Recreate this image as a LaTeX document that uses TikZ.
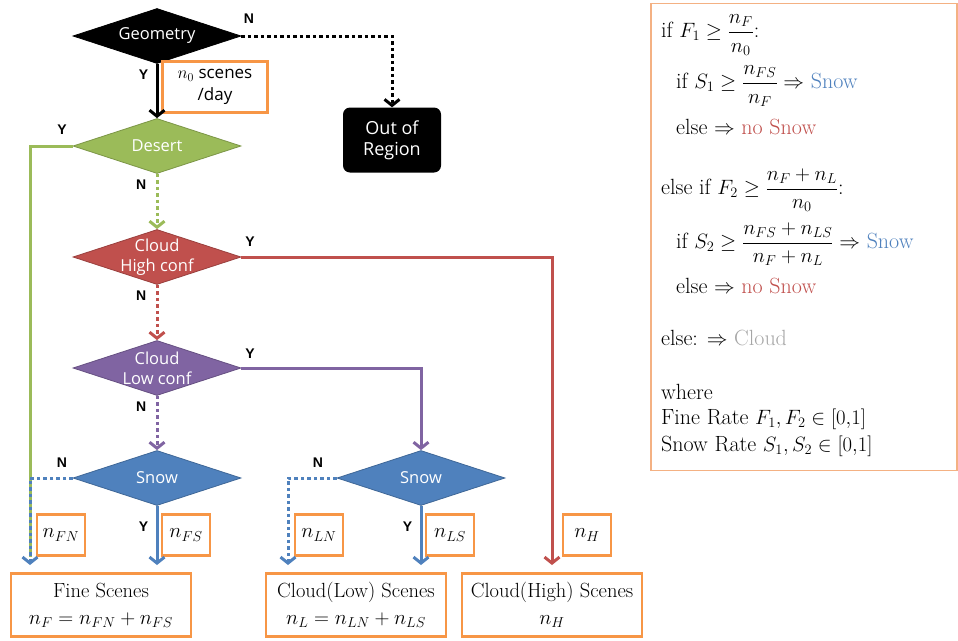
\documentclass[tikz,border=0pt]{standalone}
\usepackage{amsmath}
\usepackage{fontspec}
\setsansfont{Open Sans}
\newfontfamily\ynfont{Liberation Sans}
\usetikzlibrary{shapes.geometric,arrows.meta,positioning}
\definecolor{desertgreen}{RGB}{155,187,89}
\definecolor{highred}{RGB}{192,80,77}
\definecolor{lowpurple}{RGB}{128,100,162}
\definecolor{snowblue}{RGB}{79,129,189}
\definecolor{boxorange}{RGB}{247,150,70}
\definecolor{noteorange}{RGB}{244,177,131}
\definecolor{cloudgray}{RGB}{166,166,166}
\tikzset
{
    decision/.style = {diamond, aspect=3, minimum width=168pt, minimum height=55pt, inner xsep=0pt, inner ysep=-9pt, align=center, text=white, draw=#1!80!black, fill=#1, line width=0.8pt, font=\sffamily\fontsize{16.5}{20}\selectfont},
    terminal/.style = {rectangle, rounded corners=7pt, fill=black, text=white, minimum width=98pt, minimum height=65pt, align=center, font=\sffamily\fontsize{18}{21}\selectfont},
    yesline/.style  = {line width=3pt, draw=#1, -{Straight Barb[length=6pt,width=15pt]}},
    noline/.style   = {yesline=#1, dash pattern=on 3.5pt off 3pt},
    yn/.style       = {font=\ynfont\bfseries\fontsize{14}{15}\selectfont},
    count/.style    = {rectangle, draw=boxorange, line width=2.3pt, minimum width=48pt, minimum height=41pt, inner sep=0pt, font=\fontsize{21}{22}\selectfont},
    scenes/.style   = {rectangle, draw=boxorange, line width=2.3pt, minimum width=180pt, minimum height=63pt, align=center, font=\fontsize{20.5}{27}\selectfont},
    notebox/.style  = {rectangle, draw=noteorange, line width=1.4pt, minimum width=306pt, minimum height=467pt},
    note/.style     = {anchor=west, inner sep=0pt, font=\fontsize{22}{24}\selectfont}
}
\begin{document}
\begin{tikzpicture}[x=1pt,y=-1pt]
	\useasboundingbox (0,0) rectangle (958,640);
	% decisions
	\node (geo)    [decision=black] at (157,36) {Geometry};
	\node (desert) [decision=desertgreen] at (157,146) {Desert};
	\node (high)   [decision=highred] at (157,257) {Cloud\\High conf};
	\node (low)    [decision=lowpurple] at (157,368) {Cloud\\Low conf};
	\node (snowL)  [decision=snowblue] at (157,478) {Snow};
	\node (snowR)  [decision=snowblue] at (421,478) {Snow};
	\node (oor)    [terminal] at (392,140) {Out of\\Region};

	% counts
	\node (n0)  [count, minimum width=105pt, minimum height=51pt, align=center, font=\sffamily\fontsize{17}{22}\selectfont] at (215,87) {$n_0$ scenes\\/day};
	\node (nFN) [count] at (61,535) {$n_{FN}$};
	\node (nFS) [count] at (186,535) {$n_{FS}$};
	\node (nLN) [count] at (319,535) {$n_{LN}$};
	\node (nLS) [count] at (450,535) {$n_{LS}$};
	\node (nH)  [count] at (587,535) {$n_{H}$};

	% results
	\node (fine)  [scenes] at (101,605) {Fine Scenes\\$n_F = n_{FN} + n_{FS}$};
	\node (clow)  [scenes] at (356,605) {Cloud(Low) Scenes\\$n_L = n_{LN} + n_{LS}$};
	\node (chigh) [scenes] at (552,605) {Cloud(High) Scenes\\$n_H$};

	\coordinate (fend) at (30,565);
	\coordinate (lend) at (288,565);
	\coordinate (hend) at (552,565);

	% connectors
	\draw [yesline=black] (geo.south) -- node[yn, left=4pt, pos=0.2] {Y} (desert.north);
	\draw [noline=black] (geo.east) -| (oor.north);
	\node [yn] at (249,19) {N};
	\draw [yesline=desertgreen, -] (desert.west) -| ([yshift=8pt]fend);
	\node [yn] at (62,130) {Y};
	\draw [noline=desertgreen] (desert.south) -- node[yn, left=6pt, pos=0.2] {N} (high.north);
	\draw [yesline=highred] (high.east) -| (hend);
	\node [yn] at (250,242) {Y};
	\draw [noline=highred] (high.south) -- node[yn, left=6pt, pos=0.2] {N} (low.north);
	\draw [yesline=lowpurple] (low.east) -| (snowR.north);
	\node [yn] at (250,354) {Y};
	\draw [noline=lowpurple] (low.south) -- node[yn, left=6pt, pos=0.2] {N} (snowL.north);
	\draw [noline=snowblue] (snowL.west) -| (fend);
	\node [yn] at (62,463) {N};
	\draw [yesline=snowblue] (snowL.south) -- node[yn, left=4pt, pos=0.35] {Y} (snowL.south |- fend);
	\draw [noline=snowblue] (snowR.west) -| (lend);
	\node [yn] at (318,463) {N};
	\draw [yesline=snowblue] (snowR.south) -- node[yn, left=4pt, pos=0.35] {Y} (snowR.south |- fend);

	% rules
	\node (rules) [notebox] at (804,237) {};
	\node (r1)  [note] at (661,35)  {if $F_1 \geq \dfrac{n_F}{n_0}$:};
	\node (r2)  [note] at (676,86)  {if $S_1 \geq \dfrac{n_{FS}}{n_F} \Rightarrow$ \textcolor{snowblue}{Snow}};
	\node (r3)  [note] at (676,127) {else $\Rightarrow$ \textcolor{highred}{no Snow}};
	\node (r4)  [note] at (661,190) {else if $F_2 \geq \dfrac{n_F + n_L}{n_0}$:};
	\node (r5)  [note] at (676,244) {if $S_2 \geq \dfrac{n_{FS} + n_{LS}}{n_F + n_L} \Rightarrow$ \textcolor{snowblue}{Snow}};
	\node (r6)  [note] at (676,286) {else $\Rightarrow$ \textcolor{highred}{no Snow}};
	\node (r7)  [note] at (661,338) {else: $\Rightarrow$ \textcolor{cloudgray}{Cloud}};
	\node (r8)  [note] at (661,392) {where};
	\node (r9)  [note] at (661,419) {Fine Rate $F_1, F_2 \in [0{,}1]$};
	\node (r10) [note] at (661,446) {Snow Rate $S_1, S_2 \in [0{,}1]$};
\end{tikzpicture}
\end{document}
